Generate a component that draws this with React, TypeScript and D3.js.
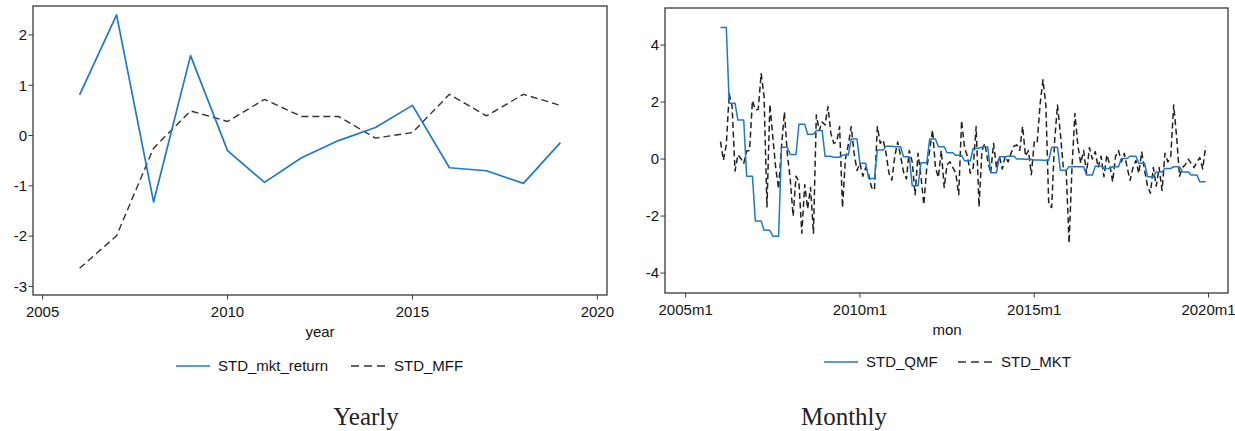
import React from "react";
import * as d3 from "d3";

// ---------- Yearly data ----------
const years = [2006, 2007, 2008, 2009, 2010, 2011, 2012, 2013, 2014, 2015, 2016, 2017, 2018, 2019];
const stdMktReturn = [0.81, 2.4, -1.32, 1.59, -0.3, -0.93, -0.44, -0.1, 0.16, 0.6, -0.64, -0.7, -0.95, -0.14];
const stdMFF = [-2.64, -1.99, -0.25, 0.49, 0.28, 0.72, 0.38, 0.38, -0.05, 0.06, 0.82, 0.39, 0.82, 0.6];
const yearXTicks = [2005, 2010, 2015, 2020];
const yearYTicks = [-3, -2, -1, 0, 1, 2];

// ---------- Monthly data (2006m1 .. 2019m12) ----------
const monthStart = 552; // Stata %tm index of 2006m1 (2005m1 = 540)
const stdQMF = [
  // 2006
  4.62, 4.62, 4.62, 1.96, 1.96, 1.96, 1.37, 1.37, 1.37, -0.6, -0.6, -0.6,
  // 2007
  -2.17, -2.17, -2.17, -2.5, -2.5, -2.5, -2.71, -2.71, -2.71, 0.41, 0.41, 0.41,
  // 2008
  0.16, 0.16, 0.16, 1.22, 1.22, 1.22, 0.87, 0.87, 0.87, 1.0, 1.0, 1.0,
  // 2009
  0.1, 0.1, 0.1, 0.06, 0.06, 0.06, 0.14, 0.14, 0.14, 0.7, 0.7, 0.7,
  // 2010
  -0.15, -0.15, -0.15, -0.68, -0.68, -0.68, 0.32, 0.32, 0.32, 0.45, 0.45, 0.45,
  // 2011
  0.43, 0.43, 0.43, 0.08, 0.08, 0.08, -0.94, -0.94, -0.94, -0.13, -0.13, -0.13,
  // 2012
  0.7, 0.7, 0.7, 0.43, 0.43, 0.43, 0.22, 0.22, 0.22, 0.13, 0.13, 0.13,
  // 2013
  -0.06, -0.06, -0.06, 0.38, 0.38, 0.38, 0.42, 0.42, 0.42, -0.48, -0.48, -0.48,
  // 2014
  0.08, 0.08, 0.08, 0.1, 0.1, 0.1, 0.0, 0.0, 0.0, -0.01, -0.01, -0.01,
  // 2015
  -0.03, -0.03, -0.03, -0.04, -0.04, -0.04, 0.41, 0.41, 0.41, -0.39, -0.39, -0.39,
  // 2016
  -0.27, -0.27, -0.27, -0.27, -0.27, -0.27, -0.56, -0.56, -0.56, -0.25, -0.25, -0.25,
  // 2017
  -0.33, -0.33, -0.33, -0.27, -0.27, -0.27, 0.02, 0.02, 0.02, 0.1, 0.1, 0.1,
  // 2018
  -0.15, -0.15, -0.15, -0.62, -0.62, -0.62, -0.45, -0.45, -0.45, -0.33, -0.33, -0.33,
  // 2019
  -0.27, -0.27, -0.27, -0.45, -0.45, -0.45, -0.56, -0.56, -0.56, -0.8, -0.8, -0.8,
];
const stdMKT = [
  // 2006
  0.61, -0.04, 0.5, 2.29, 1.85, -0.42, 0.15, 0.02, -0.15, 0.28, 0.3, 2.05,
  // 2007
  1.72, 1.75, 3.0, 2.2, -1.68, 1.92, 0.79, -0.3, -1.05, 0.43, 1.65, 0.2,
  // 2008
  -0.7, -2.0, -0.6, -0.8, -2.6, -0.9, -1.75, -1.0, -2.6, 1.55, 1.0, 1.3,
  // 2009
  1.2, 1.84, 0.9, 0.55, 0.6, 1.14, -1.7, 0.0, 0.5, 1.14, 0.2, -0.4,
  // 2010
  -0.15, -0.6, -0.3, -0.55, -1.0, -1.09, 1.14, 0.55, 0.67, 0.2, -0.5, -0.74,
  // 2011
  0.1, 0.6, 0.1, -0.45, -0.7, 0.3, -0.1, -1.25, 0.2, -0.6, -1.6, -0.3,
  // 2012
  0.3, 1.02, -0.3, -0.65, 0.3, -1.0, -0.2, -0.1, -0.3, -0.5, -1.25, 1.35,
  // 2013
  0.4, 0.1, -0.5, -0.3, 1.14, -1.68, 0.3, 0.55, -0.05, -0.5, 0.55, -0.3,
  // 2014
  0.1, -0.35, 0.1, -0.1, 0.2, 0.45, 0.5, 0.3, 1.15, 0.1, 0.3, -0.55,
  // 2015
  0.6, 0.55, 1.9, 2.78, 1.9, -1.6, -1.7, 0.6, 1.9, 0.9, -0.3, -0.4,
  // 2016
  -2.95, -0.3, 1.6, 0.5, -0.15, 0.3, -0.5, 0.4, 0.0, 0.26, -0.3, 0.1,
  // 2017
  -0.62, 0.15, -0.2, -0.8, 0.1, 0.3, -0.1, 0.2, -0.3, -0.75, -0.3, -0.05,
  // 2018
  -0.5, 0.25, -0.4, -0.95, -1.2, -0.3, -0.95, -0.3, -1.1, 0.2, -0.1, 0.1,
  // 2019
  1.9, 0.8, -0.6, -0.3, -0.2, 0.0, -0.15, -0.3, -0.1, 0.05, -0.35, 0.45,
];
const monXTicks = [540, 600, 660, 720];
const monXTickLabels = ["2005m1", "2010m1", "2015m1", "2020m1"];
const monYTicks = [-4, -2, 0, 2, 4];

const FONT = "'Liberation Sans', Arial, Helvetica, sans-serif";
const TXT = "#141414";
const BLUE = "#1f78c8";

type Pt = [number, number];

function Panel(props: {
  x0: number; x1: number; y0: number; y1: number;
  xDomain: [number, number]; yDomain: [number, number];
  xTicks: number[]; xLabels: string[]; yTicks: number[];
  xTitle: string;
  solid: Pt[]; dashed: Pt[];
  solidName: string; dashedName: string;
  legendY: number; legSolidX: number; legDashX: number;
  solidW: number; dashW: number; dashArray: string; dashColor: string;
}) {
  const p = props;
  const x = d3.scaleLinear().domain(p.xDomain).range([p.x0, p.x1]);
  const y = d3.scaleLinear().domain(p.yDomain).range([p.y1, p.y0]);
  const line = d3.line<Pt>().x((d) => x(d[0])).y((d) => y(d[1]));
  const xMid = (x(p.xTicks[0]) + x(p.xTicks[p.xTicks.length - 1])) / 2;
  return (
    <g>
      <path d={line(p.dashed) || ""} fill="none" stroke={p.dashColor} strokeWidth={p.dashW} strokeDasharray={p.dashArray} strokeLinejoin="round" />
      <path d={line(p.solid) || ""} fill="none" stroke={BLUE} strokeWidth={p.solidW} strokeLinejoin="round" />
      <rect x={p.x0} y={p.y0} width={p.x1 - p.x0} height={p.y1 - p.y0} fill="none" stroke="#3a3a3a" strokeWidth={1.3} />
      {p.yTicks.map((t) => (
        <g key={"y" + t}>
          <line x1={p.x0 - 4.5} x2={p.x0} y1={y(t)} y2={y(t)} stroke="#3a3a3a" strokeWidth={1} />
          <text x={p.x0 - 6} y={y(t) + 5.3} textAnchor="end" fontSize={15} fontFamily={FONT} fill={TXT}>{t}</text>
        </g>
      ))}
      {p.xTicks.map((t, i) => (
        <g key={"x" + t}>
          <line x1={x(t)} x2={x(t)} y1={p.y1} y2={p.y1 + 4.5} stroke="#3a3a3a" strokeWidth={1} />
          <text x={x(t)} y={p.y1 + 22} textAnchor="middle" fontSize={15} fontFamily={FONT} fill={TXT}>{p.xLabels[i]}</text>
        </g>
      ))}
      <text x={xMid} y={p.y1 + 41.5} textAnchor="middle" fontSize={15} fontFamily={FONT} fill={TXT}>{p.xTitle}</text>
      <line x1={p.legSolidX} x2={p.legSolidX + 34} y1={p.legendY} y2={p.legendY} stroke={BLUE} strokeWidth={p.solidW} />
      <text x={p.legSolidX + 42} y={p.legendY + 5.3} fontSize={15} fontFamily={FONT} fill={TXT}>{p.solidName}</text>
      <line x1={p.legDashX} x2={p.legDashX + 35} y1={p.legendY} y2={p.legendY} stroke="#333" strokeWidth={1.4} strokeDasharray="8,5" />
      <text x={p.legDashX + 43} y={p.legendY + 5.3} fontSize={15} fontFamily={FONT} fill={TXT}>{p.dashedName}</text>
    </g>
  );
}

export default function App() {
  const yearlySolid: Pt[] = years.map((yr, i) => [yr, stdMktReturn[i]]);
  const yearlyDashed: Pt[] = years.map((yr, i) => [yr, stdMFF[i]]);
  const monSolid: Pt[] = stdQMF.map((v, i) => [monthStart + i, v]);
  const monDashed: Pt[] = stdMKT.map((v, i) => [monthStart + i, v]);
  return (
    <svg width={1235} height={431} viewBox="0 0 1235 431" style={{ position: "absolute", left: 0, top: 0, display: "block", background: "#ffffff" }}>
      <rect x={0} y={0} width={1235} height={431} fill="#ffffff" />
      <Panel
        x0={33} x1={607} y0={6} y1={295}
        xDomain={[2004.74, 2020.26]} yDomain={[-3.17, 2.576]}
        xTicks={yearXTicks} xLabels={yearXTicks.map(String)} yTicks={yearYTicks}
        xTitle="year"
        solid={yearlySolid} dashed={yearlyDashed}
        solidName="STD_mkt_return" dashedName="STD_MFF"
        legendY={366} legSolidX={176} legDashX={351}
        solidW={1.7} dashW={1.4} dashArray="7,4" dashColor="#333"
      />
      <Panel
        x0={665} x1={1228} y0={8} y1={293}
        xDomain={[532.9, 726.7]} yDomain={[-4.7, 5.3]}
        xTicks={monXTicks} xLabels={monXTickLabels} yTicks={monYTicks}
        xTitle="mon"
        solid={monSolid} dashed={monDashed}
        solidName="STD_QMF" dashedName="STD_MKT"
        legendY={362} legSolidX={824} legDashX={958}
        solidW={1.5} dashW={1.5} dashArray="6,3.5" dashColor="#222"
      />
      <text x={366} y={425} textAnchor="middle" fontSize={25} fontFamily="'Liberation Serif', 'Times New Roman', serif" fill="#222">Yearly</text>
      <text x={844} y={425} textAnchor="middle" fontSize={25} fontFamily="'Liberation Serif', 'Times New Roman', serif" fill="#222">Monthly</text>
    </svg>
  );
}
